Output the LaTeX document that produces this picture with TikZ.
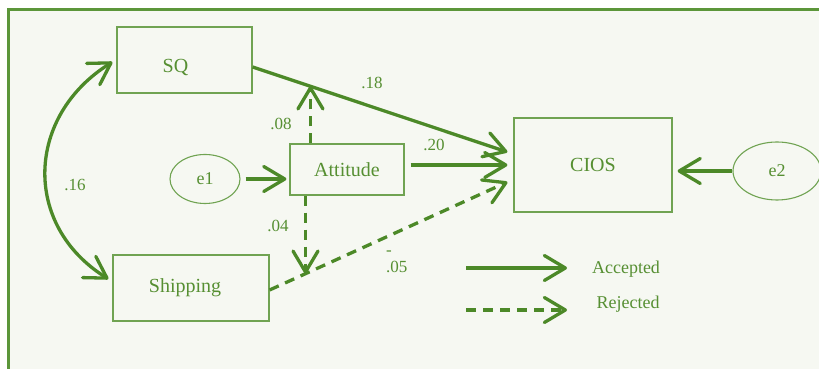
\documentclass[tikz,border=0pt]{standalone}
\usepackage{fontspec}
\setmainfont{Liberation Serif}
\usetikzlibrary{arrows.meta,shapes.geometric,positioning,calc}

\definecolor{pathgreen}{RGB}{76,137,40}
\definecolor{boxgreen}{RGB}{112,163,82}
\definecolor{textgreen}{RGB}{86,143,50}
\definecolor{framegreen}{RGB}{92,150,58}
\definecolor{paper}{RGB}{246,248,242}

\begin{document}
\begin{tikzpicture}[x=1pt,y=1pt,
    var/.style={draw=boxgreen,line width=1.2pt,text=textgreen,inner sep=0pt,
      font=\fontsize{20}{22}\selectfont},
    err/.style={ellipse,draw=boxgreen,line width=1.1pt,text=textgreen,inner sep=0pt,
      font=\fontsize{18}{20}\selectfont},
    coef/.style={text=textgreen,inner sep=0pt,font=\fontsize{17}{17}\selectfont},
    arr/.style={draw=pathgreen,line width=3.3pt,
      -{Straight Barb[length=21pt,width=25pt,round]}},
    rejected/.style={arr,dash pattern=on 10pt off 7pt},
    covarr/.style={draw=pathgreen,line width=3.3pt,
      {Straight Barb[length=21pt,width=25pt,round]}-{Straight Barb[length=21pt,width=25pt,round]}}]

      \useasboundingbox (0,0) rectangle (819,369);
      \clip (0,0) rectangle (819,369);
      \fill[white] (0,0) rectangle (819,369);

      % Frame (runs off to the right and bottom)
      \fill[paper] (8.5,-10) rectangle (830,359.5);
      \draw[framegreen,line width=2.5pt] (8.5,-10) -- (8.5,359.5) -- (830,359.5);

      % Variables
      \node[var,minimum width=135,minimum height=66] (sq) at (184.5,309)
        {\raisebox{-8pt}[\height][\depth]{SQ}\hspace*{18pt}};
      \node[var,minimum width=156,minimum height=66] (ship) at (191,81)
        {Shipping\hspace*{12pt}};
      \node[var,minimum width=114,minimum height=51] (att) at (347,199.5) {Attitude};
      \node[var,minimum width=158,minimum height=94] (cios) at (593,204) {CIOS};

      % Error terms
      \node[err,minimum width=70,minimum height=49] (e1) at (205,190) {e1};
      \node[err,minimum width=88,minimum height=58] (e2) at (777,198) {e2};

      % Covariance SQ <-> Shipping
      \draw[covarr] ([xshift=-4pt,yshift=-2pt]sq.west)
        to[out=212,in=148,looseness=1.2] ([xshift=-4pt,yshift=9pt]ship.west);

      % Paths into CIOS
      \draw[arr] ([yshift=-7pt]sq.east) -- coordinate[pos=0.227] (m1)
        ([xshift=-6pt,yshift=13pt]cios.west);
      \draw[arr] ([xshift=6pt]cios.west -| att.east) -- ([xshift=-6pt]cios.west);
      \draw[rejected] ([yshift=-2pt]ship.east) -- coordinate[pos=0.151] (m2)
        ([xshift=-6pt,yshift=-17pt]cios.west);

      % Attitude onto the SQ and Shipping paths
      \draw[rejected] (m1 |- att.north) -- (m1);
      \draw[rejected] (m2 |- att.south) -- (m2);

      % Error terms
      \draw[arr,shorten <=5pt,shorten >=3pt] (e1.east) -- (e1.east -| att.west);
      \draw[arr,shorten >=5pt] (e2.west) -- (e2.west -| cios.east);

      \node[coef] (l16) at (75,184) {.16};
      \node[coef] (l18) at (372,286) {.18};
      \node[coef] (l08) at (281,245) {.08};
      \node[coef] (l20) at (434,224) {.20};
      \node[coef] (l04) at (278,143) {.04};
      \node[coef,align=left,anchor=west] (l05) at (386,107) {-\\.05};

      % Legend
      \coordinate (acc1) at (466,101);
      \coordinate (acc2) at (567,101);
      \coordinate (rej1) at (466,59);
      \coordinate (rej2) at (567,59);
      \draw[arr] (acc1) -- (acc2);
      \draw[rejected] (rej1) -- (rej2);
      \node[coef,font=\fontsize{18}{18}\selectfont] (acctxt) at (626,100) {Accepted};
      \node[coef,font=\fontsize{18}{18}\selectfont] (rejtxt) at (628,65) {Rejected};
    \end{tikzpicture}
\end{document}
